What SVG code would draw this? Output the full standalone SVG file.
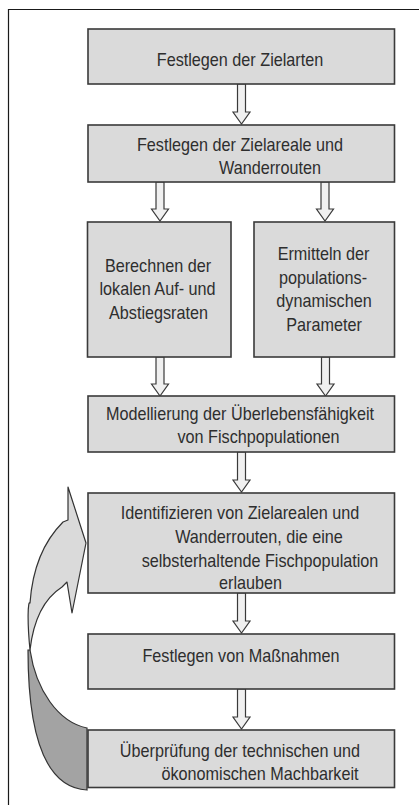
<svg xmlns="http://www.w3.org/2000/svg" width="419" height="805" viewBox="0 0 419 805">
<defs>
<style>
.box{fill:#dadada;stroke:#3a3a3a;stroke-width:1.6}
.arr{fill:#f0f0f0;stroke:#3a3a3a;stroke-width:1.2;stroke-linejoin:miter}
.t{font-family:"Liberation Sans",Arial,sans-serif;font-size:18px;fill:#2e2e2e;text-anchor:middle}
.frame{fill:none;stroke:#1a1a1a;stroke-width:1.2}
</style>
</defs>
<rect width="419" height="805" fill="#ffffff"/>
<path class="frame" d="M8.5,810 L8.5,9.5 L425,9.5"/>

<g id="loop-arrow">
<path d="M30,650 C36,690 58,722 87,728 L87,790 C50,788 28,745 28,650 Z" fill="#a3a3a3" stroke="#333" stroke-width="1.2"/>
<path d="M68,487 L86,543 L72,613 L67,582 L62,587 C48,596 34,615 30,650 C27,620 28,600 30,603 L30,603 C32,575 40,545 63,522 L68,520 Z" fill="#dadada" stroke="#333" stroke-width="1.2" stroke-linejoin="round"/>
</g>

<g id="connectors">
<path class="arr" d="M237.5,84 L245.5,84 L245.5,112 L250,112 L241.5,124 L233,112 L237.5,112 Z"/>
<path class="arr" d="M156,182 L164,182 L164,209 L168.5,209 L160,221 L151.5,209 L156,209 Z"/>
<path class="arr" d="M321,182 L329,182 L329,209 L333.5,209 L325,221 L316.5,209 L321,209 Z"/>
<path class="arr" d="M156,357 L164,357 L164,384 L168.5,384 L160,396 L151.5,384 L156,384 Z"/>
<path class="arr" d="M321.5,357 L329.5,357 L329.5,384 L334,384 L325.5,396 L317,384 L321.5,384 Z"/>
<path class="arr" d="M237.5,452 L245.5,452 L245.5,480 L250,480 L241.5,492 L233,480 L237.5,480 Z"/>
<path class="arr" d="M237.5,593 L245.5,593 L245.5,621 L250,621 L241.5,633 L233,621 L237.5,621 Z"/>
<path class="arr" d="M237.5,689 L245.5,689 L245.5,717 L250,717 L241.5,729 L233,717 L237.5,717 Z"/>
</g>

<g id="n1">
<rect class="box" x="88" y="29" width="306.5" height="55"/>
<text class="t" transform="translate(240,66) scale(0.9,1)">Festlegen der Zielarten</text>
</g>
<g id="n2">
<rect class="box" x="88" y="125" width="306.5" height="57"/>
<text class="t" transform="translate(240,150.5) scale(0.9,1)">Festlegen der Zielareale und</text>
<text class="t" transform="translate(270,173.5) scale(0.9,1)">Wanderrouten</text>
</g>
<g id="n3">
<rect class="box" x="87.5" y="222" width="143.5" height="135"/>
<text class="t" transform="translate(158,271.5) scale(0.9,1)">Berechnen der</text>
<text class="t" transform="translate(157.5,295) scale(0.9,1)">lokalen Auf- und</text>
<text class="t" transform="translate(158.5,318.5) scale(0.9,1)">Abstiegsraten</text>
</g>
<g id="n4">
<rect class="box" x="254" y="222" width="140.5" height="135"/>
<text class="t" transform="translate(323.5,260) scale(0.9,1)">Ermitteln der</text>
<text class="t" transform="translate(323,283.5) scale(0.9,1)">populations-</text>
<text class="t" transform="translate(324,307) scale(0.9,1)">dynamischen</text>
<text class="t" transform="translate(324,330.5) scale(0.9,1)">Parameter</text>
</g>
<g id="n5">
<rect class="box" x="88" y="396" width="306.5" height="56"/>
<text class="t" transform="translate(240,419.5) scale(0.9,1)">Modellierung der Überlebensfähigkeit</text>
<text class="t" transform="translate(258.5,443) scale(0.9,1)">von Fischpopulationen</text>
</g>
<g id="n6">
<rect class="box" x="88" y="493" width="306.5" height="100"/>
<text class="t" transform="translate(240,519) scale(0.9,1)">Identifizieren von Zielarealen und</text>
<text class="t" transform="translate(259,543) scale(0.9,1)">Wanderrouten, die eine</text>
<text class="t" transform="translate(260,566.5) scale(0.9,1)">selbsterhaltende Fischpopulation</text>
<text class="t" transform="translate(250.5,589) scale(0.9,1)">erlauben</text>
</g>
<g id="n7">
<rect class="box" x="88" y="634" width="306.5" height="55"/>
<text class="t" transform="translate(241,662) scale(0.9,1)">Festlegen von Maßnahmen</text>
</g>
<g id="n8">
<rect class="box" x="88" y="730" width="306.5" height="57.5"/>
<text class="t" transform="translate(240,757) scale(0.9,1)">Überprüfung der technischen und</text>
<text class="t" transform="translate(260,780) scale(0.9,1)">ökonomischen Machbarkeit</text>
</g>
</svg>
